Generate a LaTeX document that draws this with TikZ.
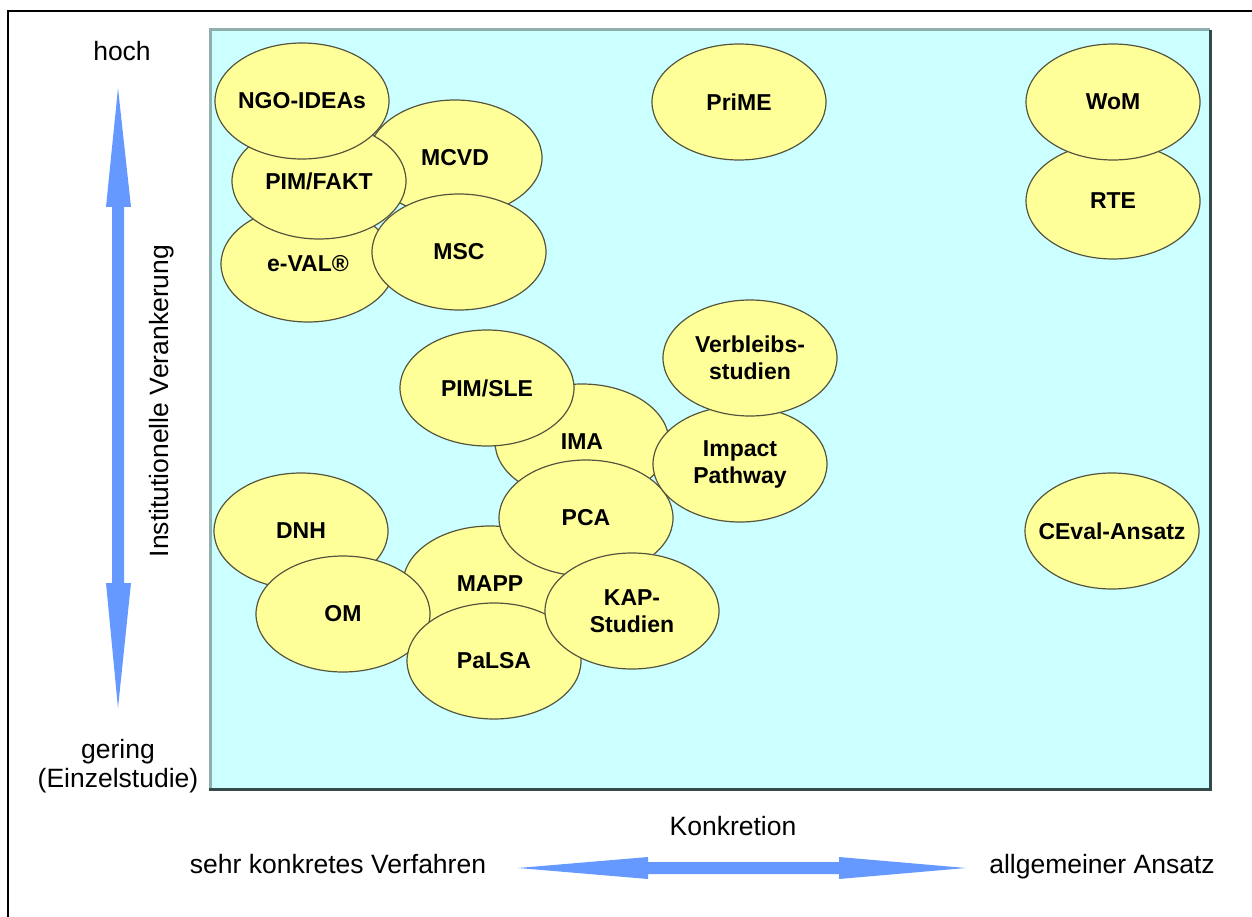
\documentclass[tikz,border=0pt]{standalone}
\usepackage{fontspec}
\setmainfont{Liberation Sans}
\usetikzlibrary{shapes.geometric}
\definecolor{panelfill}{HTML}{CCFFFF}
\definecolor{ellfill}{HTML}{FFFF99}
\definecolor{elldraw}{HTML}{55553F}
\definecolor{arrowblue}{HTML}{6699FF}
\definecolor{panellight}{HTML}{8FAFAF}
\definecolor{paneldark}{HTML}{364848}
\begin{document}
\begin{tikzpicture}[x=1pt,y=-1pt,
  method/.style={ellipse, draw=elldraw, line width=1.2pt, fill=ellfill,
    minimum width=174pt, minimum height=116pt, inner ysep=0pt, inner xsep=-30pt,
    font=\bfseries\fontsize{23}{27}\selectfont, align=center},
  axislabel/.style={font=\fontsize{26.5}{30}\selectfont, align=center, inner sep=0pt},
  bigarrow/.style={fill=arrowblue, draw=none}]
\useasboundingbox (0,0) rectangle (1252,917);
\fill[white] (0,0) rectangle (1252,917);
% outer frame (cropped at right and bottom)
\draw[line width=1.8pt] (8,917) -- (8,11) -- (1252,11);
% panel
\fill[panelfill] (210,30) rectangle (1210,789);
\draw[panellight, line width=3pt] (210,789) -- (210,30) -- (1210,30);
\draw[paneldark, line width=3pt] (1210,30) -- (1210,789) -- (208.5,789);

% top-left cluster
\node[method] (eval) at (308,264) {e-VAL®};
\node[method] (mcvd) at (455,158) {MCVD};
\node[method] (msc) at (459,252) {MSC};
\node[method] (pimfakt) at (319,181) {PIM/FAKT};
\node[method] (ngo) at (302,101) {NGO-IDEAs};
% top middle / right
\node[method] (prime) at (739,102) {PriME};
\node[method] (rte) at (1113,201) {RTE};
\node[method] (wom) at (1113,102) {WoM};
% lower cluster
\node[method] (dnh) at (301,531) {DNH};
\node[method] (mapp) at (490,584) {MAPP};
\node[method] (om) at (343,614) {OM};
\node[method] (palsa) at (494,661) {PaLSA};
\node[method] (ima) at (582,442) {IMA};
\node[method] (pimsle) at (487,388) {PIM/SLE};
\node[method] (pca) at (586,518) {PCA};
\node[method] (kap) at (632,611) {KAP-\\Studien};
\node[method] (impact) at (740,464) {Impact\\Pathway};
\node[method] (verbleib) at (750,358) {Verbleibs-\\studien};
\node[method] (ceval) at (1112,531) {CEval-Ansatz};

% vertical axis
\fill[bigarrow] (118,88) -- (131,207) -- (124,207) -- (124,583) -- (131,583)
  -- (118,708) -- (106,583) -- (112,583) -- (112,207) -- (106,207) -- cycle;
\node[axislabel, anchor=base] (hoch) at (122,61) {hoch};
\node[axislabel, anchor=base] (gering) at (118,758) {gering};
\node[axislabel, anchor=base] (einzel) at (118,787) {(Einzelstudie)};
\node[axislabel, rotate=90] (inst) at (162,401) {Institutionelle Verankerung};

% horizontal axis
\fill[bigarrow] (518,868) -- (648,857) -- (648,862) -- (839,862) -- (839,857)
  -- (966,868) -- (839,879) -- (839,874) -- (648,874) -- (648,879) -- cycle;
\node[axislabel, anchor=base] (konk) at (733,835) {Konkretion};
\node[axislabel, anchor=base] (sehr) at (338,873) {sehr konkretes Verfahren};
\node[axislabel, anchor=base] (allg) at (1102,873) {allgemeiner Ansatz};
\end{tikzpicture}
\end{document}
